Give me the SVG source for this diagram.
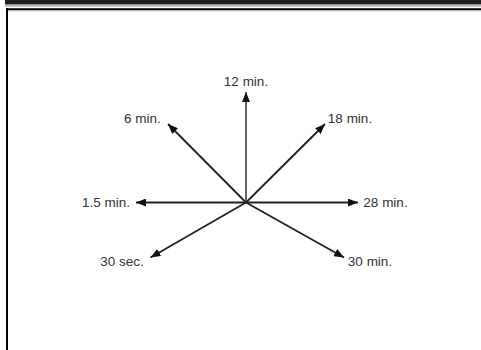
<svg xmlns="http://www.w3.org/2000/svg" width="481" height="350" viewBox="0 0 481 350">
<defs>
<marker id="ah" viewBox="0 0 10 8" refX="10" refY="4" markerWidth="10" markerHeight="8" markerUnits="userSpaceOnUse" orient="auto">
<path d="M0,0 L10,4 L0,8 z" fill="#111"/>
</marker>
<style>
.lbl{font-family:"Liberation Sans",Arial,sans-serif;font-size:13.5px;fill:#333}
.ray{stroke:#222;stroke-width:1.8;fill:none;marker-end:url(#ah)}
</style>
</defs>
<rect width="481" height="350" fill="#fff"/>
<g id="frame">
<rect x="5" y="0" width="476" height="4.5" fill="#1c1c1c"/>
<line x1="5" y1="5.8" x2="481" y2="5.8" stroke="#9a9a9a" stroke-width="1.2"/>
<line x1="6" y1="9.2" x2="481" y2="9.2" stroke="#000" stroke-width="2"/>
<line x1="8" y1="10.8" x2="481" y2="10.8" stroke="#aaa" stroke-width="1"/>
<line x1="7" y1="8.2" x2="7" y2="350" stroke="#000" stroke-width="2"/>
</g>
<g id="connectors">
<line class="ray" x1="246" y1="202.5" x2="246" y2="92" style="stroke:#555"/>
<line class="ray" x1="246" y1="202.5" x2="168" y2="124"/>
<line class="ray" x1="246" y1="202.5" x2="325" y2="124"/>
<line class="ray" x1="246" y1="202.5" x2="136" y2="202.5"/>
<line class="ray" x1="246" y1="202.5" x2="358" y2="202.5"/>
<line class="ray" x1="246" y1="202.5" x2="150.5" y2="257.5"/>
<line class="ray" x1="246" y1="202.5" x2="344" y2="257.5"/>
</g>
<g id="n12"><text class="lbl" x="246" y="86" text-anchor="middle">12 min.</text></g>
<g id="n6"><text class="lbl" x="142.5" y="123" text-anchor="middle">6 min.</text></g>
<g id="n18"><text class="lbl" x="350" y="123" text-anchor="middle">18 min.</text></g>
<g id="n15"><text class="lbl" x="106" y="206.5" text-anchor="middle">1.5 min.</text></g>
<g id="n28"><text class="lbl" x="385.5" y="206.5" text-anchor="middle">28 min.</text></g>
<g id="n30s"><text class="lbl" x="122" y="266" text-anchor="middle">30 sec.</text></g>
<g id="n30m"><text class="lbl" x="370" y="266" text-anchor="middle">30 min.</text></g>
</svg>
